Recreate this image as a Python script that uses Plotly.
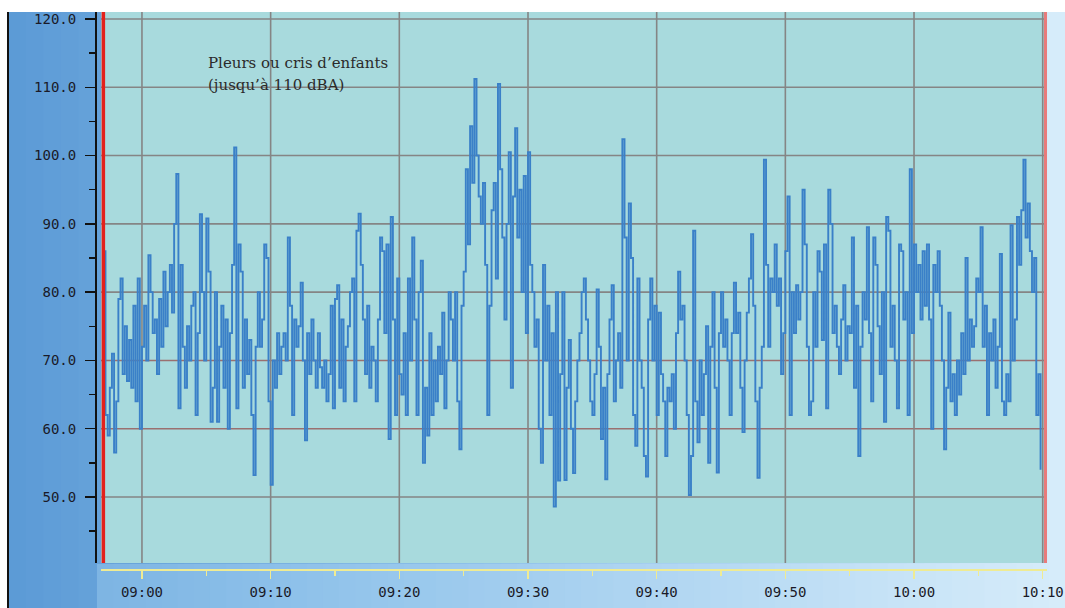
import pandas as pd
import plotly.graph_objects as go

# ---------------- data (dBA, one reading every 10 s, from 08:57:00) ----------------
start_time = "2024-01-01 08:57:00"
sample_step = "10s"

levels_0857_0906 = [
    86, 62, 59, 66, 71, 56.5,
    64, 79, 82, 68, 75, 67,
    73, 66, 78, 64, 82, 60,
    72, 78, 70, 85.4, 80, 74,
    76, 68, 79, 72, 83, 75,
    80, 84, 77, 90, 97.3, 63,
    84, 72, 66, 75, 70, 78,
    80, 62, 74, 91.4, 80, 70,
    90.8, 83, 61, 66, 80, 61,
]
levels_0906_0916 = [
    72, 78, 66, 76, 60, 74,
    84, 101.2, 63, 87, 83, 66,
    76, 68, 73, 62, 53.2, 72,
    80, 72, 76, 87, 85, 64,
    51.8, 70, 66, 74, 68, 72,
    74, 70, 88, 78, 62, 76,
    72, 75, 81.4, 70, 58.3, 74,
    68, 76, 70, 66, 74, 69,
    66, 70, 64, 68, 78, 63,
    79, 81, 66, 76, 64, 72,
]
levels_0916_0925 = [
    75, 80, 82, 64, 89, 91.5,
    84, 76, 68, 78, 66, 72,
    70, 64, 76, 88, 86, 74,
    87, 58.5, 91, 76, 62, 82,
    68, 65, 74, 62, 82, 70,
    88, 76, 62, 80, 84.6, 55,
    66, 59, 74, 62, 70, 64,
    72, 68, 77, 63, 70, 80,
    76, 70, 80, 64, 57, 78,
]
levels_0925_0934 = [
    83, 98, 87, 104.3, 96, 111.2,
    100, 94, 90, 96, 84, 62,
    78, 92, 96, 82, 110.5, 98,
    88, 76, 90, 100.5, 66, 94,
    104, 88, 95, 80, 97, 74,
    100.5, 84, 80, 72, 76, 60,
    55, 84, 70, 78, 62, 74,
    48.6, 80, 52.4, 68, 80, 52.5,
    66, 73, 60, 53.5, 64, 70,
]
levels_0934_0943 = [
    74, 80, 82, 76, 70, 64,
    62, 68, 80.4, 72, 58.5, 66,
    52.6, 68, 76, 81, 64, 70,
    74, 66, 102.4, 88, 70, 93,
    85, 62, 57.5, 82, 70, 66,
    56, 53, 76, 82, 70, 78,
    62, 77, 68, 64, 56, 66,
    64, 68, 60, 74, 83, 76,
    78, 70, 62, 50.3, 56, 89,
]
levels_0943_0952 = [
    64, 58, 70, 62, 68, 75,
    55, 72, 80, 66, 53.6, 74,
    80, 72, 76, 70, 62, 74,
    81.4, 74, 77, 66, 59.5, 70,
    77, 82, 88.5, 78, 64, 52.8,
    66, 72, 99.4, 84, 72, 82,
    80, 87, 78, 82, 68, 74,
    86, 94, 62, 80, 74, 81,
    76, 80, 95, 87, 72, 62,
]
levels_0952_1001 = [
    64, 80, 72, 86, 83, 73,
    87, 63, 95, 90, 74, 78,
    72, 68, 76, 81, 70, 75,
    74, 88, 66, 78, 56, 72,
    80, 76, 89.5, 74, 64, 88,
    84, 75, 68, 80, 61, 91,
    89, 72, 78, 70, 63, 87,
    86, 76, 80, 62, 98, 74,
    87, 80, 84, 76, 86, 78,
]
levels_1001_1010 = [
    87, 76, 60, 84, 80, 86,
    78, 70, 57, 66, 77, 64,
    68, 62, 70, 65, 74, 68,
    85, 70, 76, 72, 75, 82,
    80, 89.5, 72, 78, 62, 74,
    70, 76, 66, 72, 85.6, 64,
    62, 68, 64, 89.8, 70, 76,
    91, 84, 92, 99.4, 88, 93,
    86, 80, 85, 62, 68, 54,
]

selection_start = "2024-01-01 08:57:00"
selection_end = "2024-01-01 10:10:14"
x_range = ["2024-01-01 08:56:49", "2024-01-01 10:10:20"]
y_range = [40.34, 121.02]
y_grid_gray = [50, 80, 90, 100, 110, 120]
y_grid_red = [60, 70]
x_grid_times = ["2024-01-01 09:00", "2024-01-01 09:10", "2024-01-01 09:20",
                "2024-01-01 09:30", "2024-01-01 09:40", "2024-01-01 09:50",
                "2024-01-01 10:00", "2024-01-01 10:10"]
annotation_lines = ["Pleurs ou cris d\u2019enfants", "(jusqu\u2019\u00e0 110 dBA)"]

levels = (levels_0857_0906 + levels_0906_0916 + levels_0916_0925 + levels_0925_0934
          + levels_0934_0943 + levels_0943_0952 + levels_0952_1001 + levels_1001_1010)
times = pd.date_range(start_time, periods=len(levels), freq=sample_step)

# ---------------- figure ----------------
W, H = 1065, 608
ML, MR, MT, MB = 96, 18, 12, 38
PW, PH = W - ML - MR, H - MT - MB
TEAL = "#a8dadd"


def px_x(p):
    return (p - ML) / PW


def px_y(p):
    return (H - MB - p) / PH


fig = go.Figure()
fig.add_trace(go.Scatter(
    x=times, y=levels, mode="lines", line_shape="hv",
    line=dict(color="#3a80c8", width=1.9), showlegend=False, hoverinfo="skip",
))

shapes = []
# gradient background built from vertical strips (paper coords, below everything)
stops = [(0.0, (92, 155, 214)), (0.45, (143, 194, 234)), (1.0, (214, 236, 250))]


def grad(t):
    for (t0, c0), (t1, c1) in zip(stops[:-1], stops[1:]):
        if t <= t1:
            f = (t - t0) / (t1 - t0)
            return tuple(round(a + (b - a) * f) for a, b in zip(c0, c1))
    return stops[-1][1]


n_strips = 60
x_left, x_right = 8, W
for i in range(n_strips):
    a = x_left + (x_right - x_left) * i / n_strips
    b = x_left + (x_right - x_left) * (i + 1) / n_strips + 1
    r, g, bl = grad(i / (n_strips - 1))
    shapes.append(dict(type="rect", xref="paper", yref="paper",
                       x0=px_x(a), x1=px_x(b), y0=px_y(H), y1=px_y(MT),
                       fillcolor=f"rgb({r},{g},{bl})", line=dict(width=0),
                       layer="below"))
# lighter band below the plot (right of the y axis)
band_left, band_right = 97, W
for i in range(n_strips):
    a = band_left + (band_right - band_left) * i / n_strips
    b = band_left + (band_right - band_left) * (i + 1) / n_strips + 1
    r, g, bl = grad(min(1.0, 0.3 + 0.7 * i / (n_strips - 1)))
    shapes.append(dict(type="rect", xref="paper", yref="paper",
                       x0=px_x(a), x1=px_x(b), y0=px_y(H), y1=px_y(564),
                       fillcolor=f"rgb({r},{g},{bl})", line=dict(width=0),
                       layer="below"))

# teal plot area (subplot refs -> drawn above the paper strips)
shapes.append(dict(type="rect", xref="x", yref="y", x0=x_range[0], x1=x_range[1],
                   y0=y_range[0], y1=y_range[1], fillcolor=TEAL, line=dict(width=0),
                   layer="below"))

# left black frame line
shapes.append(dict(type="line", xref="paper", yref="paper",
                   x0=px_x(8), x1=px_x(8), y0=px_y(MT), y1=px_y(H),
                   line=dict(color="#111111", width=2), layer="above"))

# grid lines (subplot refs, below traces)
for yv in y_grid_gray:
    shapes.append(dict(type="line", xref="x", yref="y", x0=x_range[0], x1=x_range[1],
                       y0=yv, y1=yv, line=dict(color="#858585", width=1.6), layer="below"))
for yv in y_grid_red:
    shapes.append(dict(type="line", xref="x", yref="y", x0=x_range[0], x1=x_range[1],
                       y0=yv, y1=yv, line=dict(color="#9a7070", width=1.6), layer="below"))
for xv in x_grid_times:
    shapes.append(dict(type="line", xref="x", yref="y", x0=xv, x1=xv,
                       y0=y_range[0], y1=y_range[1],
                       line=dict(color="#858585", width=1.6), layer="below"))

# selection markers
shapes.append(dict(type="line", xref="x", yref="y", x0=selection_start, x1=selection_start,
                   y0=y_range[0], y1=y_range[1], line=dict(color="#e3211c", width=3.5),
                   layer="above"))
shapes.append(dict(type="line", xref="x", yref="y", x0=selection_end, x1=selection_end,
                   y0=y_range[0], y1=y_range[1], line=dict(color="#e87b7b", width=3.5),
                   layer="above"))

fig.update_layout(shapes=shapes)

# annotation text
for txt, ypx in zip(annotation_lines, (62.5, 85)):
    fig.add_annotation(text=txt, xref="paper", yref="paper",
                       x=px_x(206), y=px_y(ypx),
                       xanchor="left", yanchor="middle", showarrow=False,
                       font=dict(family="DejaVu Serif", size=15, color="#2b2b2b"))

tick_font = dict(family="DejaVu Sans Mono", size=14, color="#1a1a28")

fig.update_layout(
    width=W, height=H,
    margin=dict(l=ML, r=MR, t=MT, b=MB, pad=0, autoexpand=False),
    paper_bgcolor="white",
    plot_bgcolor=TEAL,
    xaxis=dict(
        domain=[px_x(101), 1], anchor="free", position=0,
        type="date", range=x_range,
        tick0="2024-01-01 09:00:00", dtick=600000, tickformat="%H:%M",
        showgrid=False,
        showline=True, linecolor="#efeb93", linewidth=2,
        ticks="outside", ticklen=8, tickwidth=1.5, tickcolor="#efeb93",
        minor=dict(dtick=300000, ticks="outside", ticklen=5, tickwidth=1.5,
                   tickcolor="#efeb93", showgrid=False),
        tickfont=tick_font, ticklabelstandoff=1,
        zeroline=False, fixedrange=True, automargin=False,
    ),
    yaxis=dict(
        domain=[px_y(563), 1], anchor="free", position=0,
        range=y_range, tick0=0, dtick=10, tickformat=".1f",
        showgrid=False,
        showline=True, linecolor="#111111", linewidth=2,
        ticks="outside", ticklen=10, tickwidth=1.5, tickcolor="#111111",
        minor=dict(dtick=5, ticks="outside", ticklen=6, tickwidth=1.5,
                   tickcolor="#111111", showgrid=False),
        tickfont=tick_font, ticklabelstandoff=6,
        zeroline=False, fixedrange=True, automargin=False,
    ),
)

fig.write_html(
    "out.html",
    config={"displayModeBar": False, "staticPlot": True},
    post_script="document.body.style.margin='0';document.body.style.padding='0';",
)
